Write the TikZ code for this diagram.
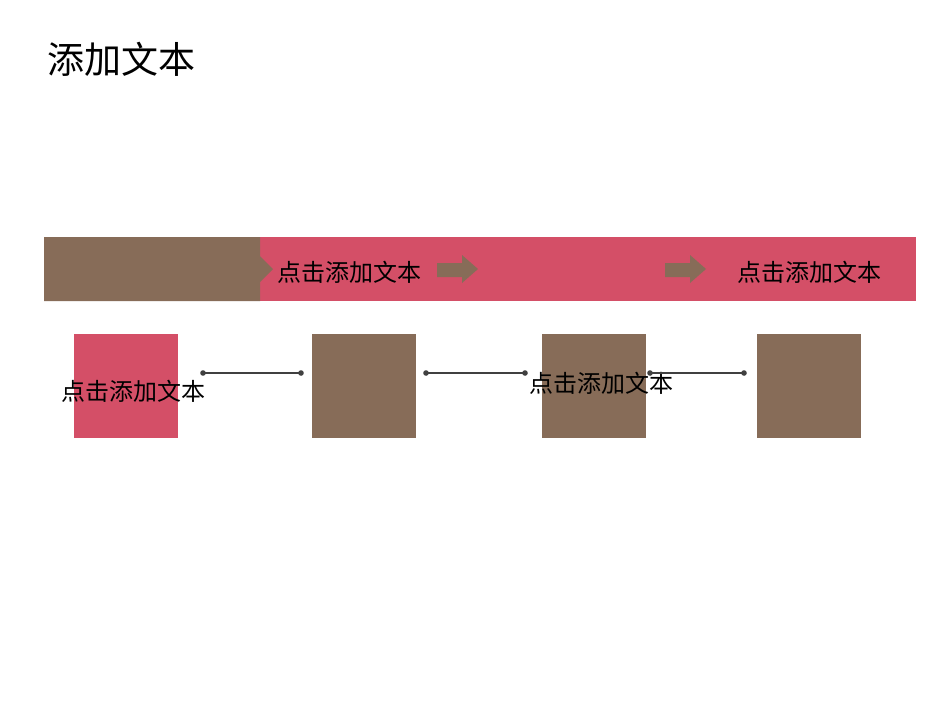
\documentclass[tikz,border=0pt]{standalone}
\usepackage{fontspec}
\newfontfamily\cjk{Noto Sans CJK SC}
\definecolor{pinkc}{HTML}{D44F67}
\definecolor{brownc}{HTML}{876C58}
\definecolor{linec}{HTML}{404040}
\begin{document}
\begin{tikzpicture}[x=1pt,y=-1pt,
  sq/.style={draw=none,inner sep=0pt,minimum width=104pt,minimum height=104pt,anchor=north west},
  lbl/.style={font=\cjk\fontsize{24}{28}\selectfont,inner sep=0pt,text=black},
  conn/.style={draw=linec,line width=1.2pt},
  dotc/.style={fill=linec,draw=none}]
\useasboundingbox (0,0) rectangle (950,713);
\fill[white] (0,0) rectangle (950,713);
\node[font=\cjk\fontsize{37}{40}\selectfont,inner sep=0pt,anchor=west] (title) at (47,59) {添加文本};
% bar
\fill[pinkc] (260,237) rectangle (916,301);
\fill[brownc] (44,237) -- (260,237) -- (260,256) -- (273,269) -- (260,282) -- (260,301) -- (44,301) -- cycle;
\node[lbl,anchor=west] (t1) at (277,272) {点击添加文本};
\node[lbl,anchor=west] (t2) at (737,272) {点击添加文本};
\foreach \ax in {437,665}{
  \fill[brownc] (\ax,263) -- (\ax+25,263) -- (\ax+25,255) -- (\ax+41,269) -- (\ax+25,283) -- (\ax+25,277) -- (\ax,277) -- cycle;
}
% squares
\node[sq,fill=pinkc] (s1) at (74,334) {};
\node[sq,fill=brownc] (s2) at (312,334) {};
\node[sq,fill=brownc] (s3) at (542,334) {};
\node[sq,fill=brownc] (s4) at (757,334) {};
\node[lbl] (t3) at (133,391) {点击添加文本};
\node[lbl] (t4) at (601,383) {点击添加文本};
% connectors
\coordinate (a1) at (203,373); \coordinate (b1) at (301,373);
\coordinate (a2) at (426,373); \coordinate (b2) at (525,373);
\coordinate (a3) at (650,373); \coordinate (b3) at (744,373);
\foreach \i in {1,2,3}{
  \draw[conn] (a\i) -- (b\i);
  \fill[linec] (a\i) circle (2.8);
  \fill[linec] (b\i) circle (2.8);
}
\end{tikzpicture}
\end{document}
